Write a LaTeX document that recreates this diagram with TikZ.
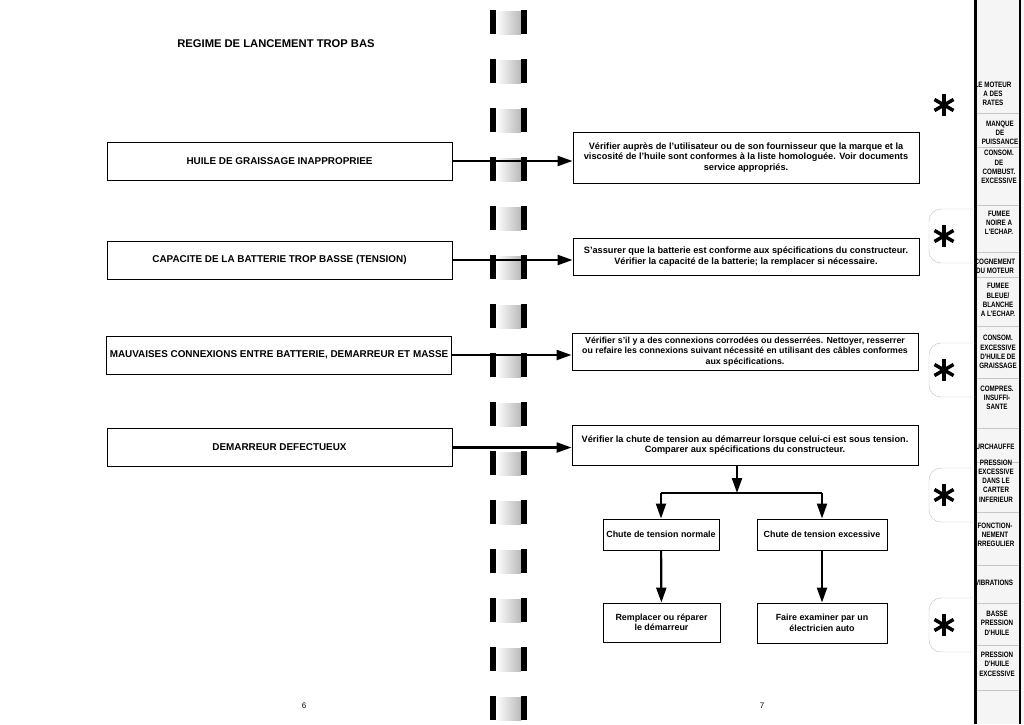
\documentclass[tikz,border=0pt]{standalone}
\usepackage{fontspec}
\setmainfont{Liberation Sans}
\newfontfamily\tabfont[FakeStretch=0.8]{Liberation Sans}
\usetikzlibrary{arrows.meta}

\tikzset{
  cause/.style={draw, line width=0.9pt, minimum width=345pt, minimum height=38pt,
    font=\fontsize{9.9}{11}\selectfont\bfseries},
  remedy/.style={draw, line width=0.9pt, minimum width=346pt, align=center,
    font=\fontsize{9.2}{10.2}\selectfont\bfseries},
  outcome/.style={draw, line width=0.9pt, align=center,
    font=\fontsize{8.9}{10.5}\selectfont\bfseries},
  link/.style={line width=2.2pt, -{Triangle[length=15pt,width=10pt]}},
  bar/.style={line width=2.2pt},
  tablabel/.style={align=center, inner sep=0pt, font=\tabfont\fontsize{7.8}{9.3}\selectfont\bfseries},
  pagenum/.style={font=\fontsize{8}{9}\selectfont},
}

\begin{document}
\begin{tikzpicture}[x=1pt,y=-1pt]
  \useasboundingbox (0,0) rectangle (1024,724);

  \foreach \y in {22,71,...,708}{
    \shade[left color=white, right color=gray!55] (496,\y-11) rectangle (521,\y+12);
    \fill (490,\y-12) rectangle (496,\y+12);
    \fill (521,\y-12) rectangle (527,\y+12);
  }

  \begin{scope}
    \clip (976,0) rectangle (1024,724);
    \fill[gray!8] (976,0) rectangle (1024,724);
    \foreach \y in {113,147,205,252,277,326,378,428,462,512,565,603,645,690}
      \draw[gray!45] (976,\y) -- (1019,\y);
    \foreach \y/\x/\t in {94/993/{LE MOTEUR\\A DES\\RATES},
        133/1000/{MANQUE\\DE\\PUISSANCE},
        167/999/{CONSOM.\\DE\\COMBUST.\\EXCESSIVE},
        223/999/{FUMEE\\NOIRE A\\L'ECHAP.},
        266/995/{COGNEMENT\\DU MOTEUR},
        300/998/{FUMEE\\BLEUE/\\BLANCHE\\A L'ECHAP.},
        352/998/{CONSOM.\\EXCESSIVE\\D'HUILE DE\\GRAISSAGE},
        398/997/{COMPRES.\\INSUFFI-\\SANTE},
        447/993/{SURCHAUFFE},
        481/996/{PRESSION\\EXCESSIVE\\DANS LE\\CARTER\\INFERIEUR},
        535/995/{FONCTION-\\NEMENT\\IRREGULIER},
        583/994/{VIBRATIONS},
        623/997/{BASSE\\PRESSION\\D'HUILE},
        664/997/{PRESSION\\D'HUILE\\EXCESSIVE}}
      \node[tablabel] (tab\y) at (\x,\y) {\t};
  \end{scope}
  \draw[line width=3pt] (975,0) -- (975,724);
  \draw[line width=2pt] (1020,0) -- (1020,724);

  \foreach \y in {236,370,495,625}
    \draw[gray!50, rounded corners=12pt] (975,\y-27) -- (929,\y-27) -- (929,\y+27) -- (975,\y+27);
  \foreach \y in {105,236,370,495,625}
    \foreach \a in {90,30,150}
      \draw[line width=3.5pt, shift={(944,\y)}] (\a:11) -- (\a+180:11);

  \node[font=\fontsize{11.2}{12}\selectfont\bfseries] (title) at (276,44) {REGIME DE LANCEMENT TROP BAS};

  \node[cause] (oil) at (279.5,161) {HUILE DE GRAISSAGE INAPPROPRIEE};
  \node[cause] (batt) at (279.5,260) {CAPACITE DE LA BATTERIE TROP BASSE (TENSION)};
  \node[cause] (conn) at (279,355) {MAUVAISES CONNEXIONS ENTRE BATTERIE, DEMARREUR ET MASSE};
  \node[cause] (starter) at (279.5,447.5) {DEMARREUR DEFECTUEUX};

  \node[remedy, minimum height=51pt] (oilfix) at (746,157.5)
    {Vérifier auprès de l'utilisateur ou de son fournisseur que la marque et la\\
     viscosité de l'huile sont conformes à la liste homologuée. Voir documents\\
     service appropriés.};
  \node[remedy, minimum height=37pt] (battfix) at (746,256.5)
    {S'assurer que la batterie est conforme aux spécifications du constructeur.\\
     Vérifier la capacité de la batterie; la remplacer si nécessaire.};
  \node[remedy, minimum height=37pt, font=\fontsize{8.8}{10.2}\selectfont\bfseries] (connfix) at (745,351.5)
    {Vérifier s'il y a des connexions corrodées ou desserrées. Nettoyer, resserrer\\
     ou refaire les connexions suivant nécessité en utilisant des câbles conformes\\
     aux spécifications.};
  \node[remedy, minimum height=40pt] (starterfix) at (745,445)
    {Vérifier la chute de tension au démarreur lorsque celui-ci est sous tension.\\
     Comparer aux spécifications du constructeur.};

  \draw[link] (oil.east) -- (oil.east -| oilfix.west);
  \draw[link] (batt.east) -- (batt.east -| battfix.west);
  \draw[link] (conn.east) -- (conn.east -| connfix.west);
  \draw[link] (starter.east) -- (starter.east -| starterfix.west);

  \node[outcome, minimum width=116pt, minimum height=31pt] (normal) at (661,534.5) {Chute de tension normale};
  \node[outcome, minimum width=130pt, minimum height=31pt] (excess) at (822,534.5) {Chute de tension excessive};
  \node[outcome, minimum width=117pt, minimum height=39pt] (repair) at (661.5,622.5) {Remplacer ou réparer\\le démarreur};
  \node[outcome, minimum width=130pt, minimum height=40pt] (expert) at (822,623) {Faire examiner par un\\électricien auto};

  \coordinate (fork) at (737,493);
  \draw[link] (starterfix.south -| fork) -- (fork);
  \draw[bar] (fork -| normal) -- (fork -| excess);
  \draw[link] (fork -| normal) -- (normal.north);
  \draw[link] (fork -| excess) -- (excess.north);
  \draw[link] (normal) -- (repair);
  \draw[link] (excess) -- (expert);

  \node[pagenum] (page6) at (304,706) {6};
  \node[pagenum] (page7) at (762,706) {7};
\end{tikzpicture}
\end{document}
